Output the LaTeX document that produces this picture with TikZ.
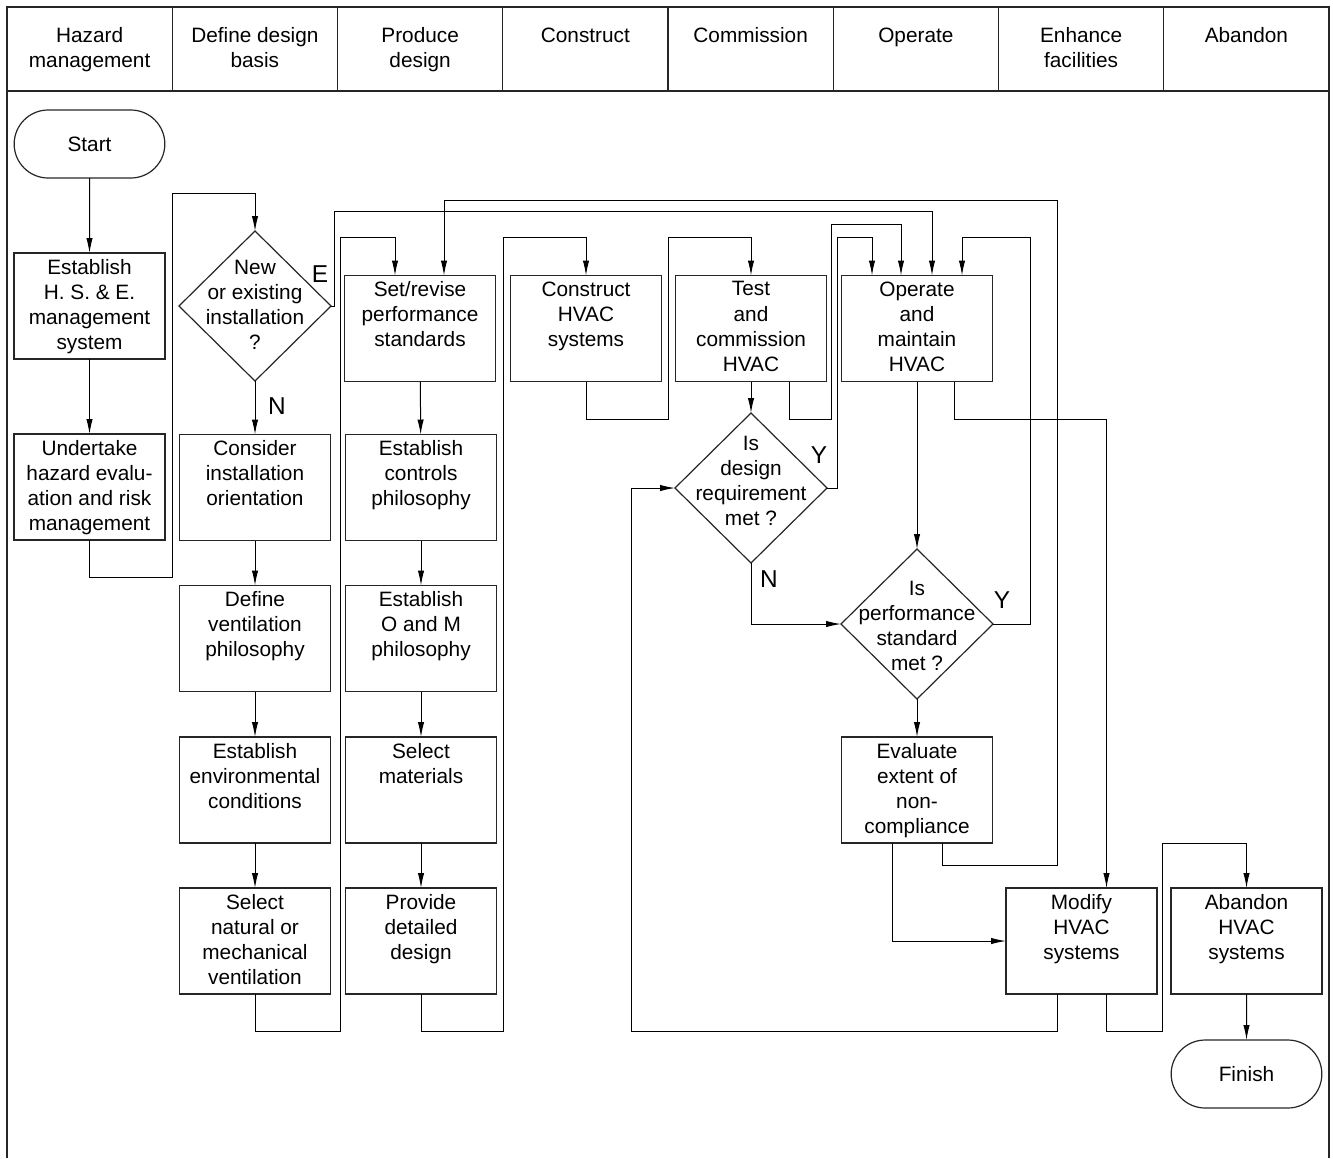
\documentclass[tikz,border=0pt]{standalone}
\usepackage{fontspec}
\setmainfont{Liberation Sans}
\usetikzlibrary{positioning,shapes.geometric,shapes.misc,arrows.meta,calc}

\newcommand{\hvacfont}{\fontsize{10.4}{12.6}\selectfont}
\newcommand{\ynfont}{\fontsize{12.2}{14}\selectfont}

\tikzset{
	colhead/.style={draw=black!85, line width=0.6pt, outer sep=0pt, inner xsep=3pt, inner ysep=10.3pt,
		minimum width=82.625pt, minimum height=42pt, font=\hvacfont,
		execute at begin node={\begin{minipage}[c][21.4pt][t]{76pt}\centering},
		execute at end node={\end{minipage}}},
	stepbox/.style={draw=black!85, line width=0.6pt, outer sep=0pt, inner sep=3pt,
		minimum width=75.5pt, minimum height=53pt, font=\hvacfont,
		execute at begin node={\begin{minipage}[c][47pt][t]{69.5pt}\centering},
		execute at end node={\end{minipage}}},
	decision/.style={diamond, draw=black!85, line width=0.6pt, outer sep=0pt, minimum width=76pt, minimum height=75pt, inner sep=0pt},
	dtext/.style={align=center, inner sep=0pt, font=\hvacfont},
	term/.style={rounded rectangle, draw=black!85, line width=0.6pt, outer sep=0pt, minimum width=82pt, minimum height=34pt, font=\hvacfont},
	yn/.style={inner sep=0pt, font=\ynfont},
	flow/.style={line width=0.5pt, -{Latex[length=7.5pt,width=3.2pt]}}
}

\begin{document}
\begin{tikzpicture}[x=0.5pt, y=-0.5pt]
	\useasboundingbox (0,0) rectangle (1333,1158);
	% swim lanes
	\foreach \txt [count=\i from 0] in {{Hazard\\management}, {Define design\\basis}, {Produce\\design},
		Construct, Commission, Operate, {Enhance\\facilities}, Abandon}
		\node[colhead] (col\i) at ({89.625+165.25*\i},49) {\txt};
	\draw[line width=0.6pt, draw=black!85] (col0.south west) -- (7,1158);
	\draw[line width=0.6pt, draw=black!85] (col7.south east) -- (1329,1158);
	%
	\node[term] (start) at (89.5,144) {Start};
	\node[stepbox] (hse) at (89.5,306) {Establish\\H. S. \& E.\\management\\system};
	\node[stepbox, below=37.5pt of hse] (haz) {Undertake\\hazard evalu-\\ation and risk\\management};
	%
	\node[decision] (newex) at (255,306) {};
	\node[dtext] (newextxt) at ($(newex)+(0,-1)$) {New\\or existing\\installation\\?};
	\node[stepbox] (consid) at (255,487.5) {Consider\\installation\\orientation};
	\node[stepbox, below=22.5pt of consid] (defvent) {Define\\ventilation\\philosophy};
	\node[stepbox, below=22.75pt of defvent] (env) {Establish\\environmental\\conditions};
	\node[stepbox, below=22.5pt of env] (selvent) {Select\\natural or\\mechanical\\ventilation};
	%
	\node[stepbox] (sets) at (420,328.5) {Set/revise\\performance\\standards};
	\node[stepbox, right=7.5pt of consid] (ctrl) {Establish\\controls\\philosophy};
	\node[stepbox, right=7.5pt of defvent] (om) {Establish\\O and M\\philosophy};
	\node[stepbox, right=7.5pt of env] (mat) {Select\\materials};
	\node[stepbox, right=7.5pt of selvent] (detail) {Provide\\detailed\\design};
	%
	\node[stepbox, right=7.5pt of sets] (constr) {Construct\\HVAC\\systems};
	\node[stepbox, right=7pt of constr] (test) {Test\\and\\commission\\HVAC};
	\node[stepbox, right=7.5pt of test] (oper) {Operate\\and\\maintain\\HVAC};
	\node[decision, below=15.75pt of test] (desq) {};
	\node[dtext] (desqtxt) at ($(desq)+(0,-7)$) {Is\\design\\requirement\\met ?};
	\node[decision, below=83.75pt of oper] (perfq) {};
	\node[dtext] (perfqtxt) at ($(perfq)+(0,2)$) {Is\\performance\\standard\\met ?};
	\node[stepbox, below=19pt of perfq] (evalnc) {Evaluate\\extent of\\non-\\compliance};
	%
	\node[stepbox] (modify) at (1081.5,941) {Modify\\HVAC\\systems};
	\node[stepbox, right=7pt of modify] (aband) {Abandon\\HVAC\\systems};
	\node[term, below=23pt of aband] (finish) {Finish};
	%
	\node[yn] (lblE) at ($(newex.east)+(-11,-32)$) {E};
	\node[yn] (lblN1) at ($(newex.south)+(22,25)$) {N};
	\node[yn] (lblY1) at ($(desq.east)+(-8,-33)$) {Y};
	\node[yn] (lblN2) at ($(desq.south)+(18,16)$) {N};
	\node[yn] (lblY2) at ($(perfq.east)+(9,-24)$) {Y};
	%
	\draw[flow] (start) -- (hse);
	\draw[flow] (hse) -- (haz);
	\draw[flow] (haz.south) -- ++(0,37) -| ($(newex.north)+(-83,-38)$) -| (newex.north);
	\draw[flow] (newex) -- (consid);
	\draw[flow] (newex.east) -- ++(3,0) |- ($(oper.north)+(15,-64)$) -- ($(oper.north)+(15,0)$);
	\draw[flow] (consid) -- (defvent);
	\draw[flow] (defvent) -- (env);
	\draw[flow] (env) -- (selvent);
	\draw[flow] (selvent.south) -- ++(0,37) -| ($(sets.north)+(-80,-38)$) -| ($(sets.north)+(-25,0)$);
	\draw[flow] (sets) -- (ctrl);
	\draw[flow] (ctrl) -- (om);
	\draw[flow] (om) -- (mat);
	\draw[flow] (mat) -- (detail);
	\draw[flow] (detail.south) -- ++(0,37) -| ($(constr.north)+(-83,-38)$) -| (constr.north);
	\draw[flow] (constr.south) -- ++(0,37.5) -| ($(test.north)+(-83,-38)$) -| (test.north);
	\draw[flow] (test) -- (desq);
	\draw[flow] ($(test.south)+(38,0)$) -- ++(0,37.5) -| ($(oper.north)+(-86,-51)$) -| ($(oper.north)+(-16,0)$);
	\draw[flow] (desq.east) -- ++(10,0) |- ($(oper.north)+(-45,-38)$) -- ($(oper.north)+(-45,0)$);
	\draw[flow] (desq.south) |- (perfq.west);
	\draw[flow] (oper) -- (perfq);
	\draw[flow] ($(oper.south)+(37,0)$) -- ++(0,37.5) -| ($(modify.north)+(25,0)$);
	\draw[flow] (perfq.east) -- ++(37,0) |- ($(oper.north)+(45,-38)$) -- ($(oper.north)+(45,0)$);
	\draw[flow] (perfq) -- (evalnc);
	\draw[flow] ($(evalnc.south)+(-25,0)$) |- (modify.west);
	\draw[flow] ($(evalnc.south)+(25,0)$) -- ++(0,22) -| ($(modify.north)+(-24,-688)$) -| ($(sets.north)+(24,0)$);
	\draw[flow] ($(modify.south)+(-24,0)$) -- ++(0,37) -| ($(desq.west)+(-44,0)$) -- (desq.west);
	\draw[flow] ($(modify.south)+(25,0)$) -- ++(0,37) -| ($(aband.north)+(-84,-45)$) -| (aband.north);
	\draw[flow] (aband) -- (finish);
\end{tikzpicture}
\end{document}
